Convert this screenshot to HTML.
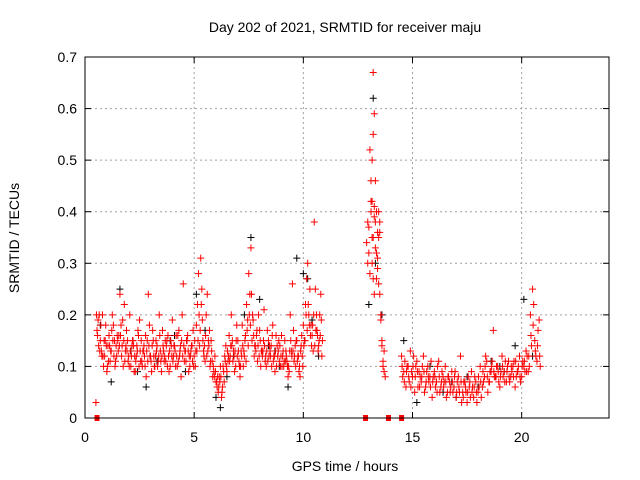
<!DOCTYPE html>
<html><head><meta charset="utf-8"><style>
body{margin:0;background:#fff;}
svg{display:block;font-family:"Liberation Sans",sans-serif;}
</style></head><body>
<svg id="chart" width="640" height="480">
<text x="345" y="32" font-size="14" text-anchor="middle">Day 202 of 2021, SRMTID for receiver maju</text>
<text x="345" y="471" font-size="14" text-anchor="middle">GPS time / hours</text>
<text transform="translate(19,238) rotate(-90)" font-size="14" text-anchor="middle">SRMTID / TECUs</text>
<g id="grid"></g><g id="ticks"></g><g id="blk"></g><g id="red"></g>
<rect x="85" y="57" width="524" height="361" fill="none" stroke="#000"/>
</svg>
<script>
const xTicks=[0,5,10,15,20];
const yTicks=[0,0.1,0.2,0.3,0.4,0.5,0.6,0.7];
const yTickLabels=["0","0.1","0.2","0.3","0.4","0.5","0.6","0.7"];
const seg1Start=0.5, seg1Step=0.1;
const seg1A=[0.03,0.19,0.15,0.2,0.12,0.09,0.16,0.13,0.18,0.11,0.15,0.24,0.14,0.22,0.17,0.12,0.1,0.15,0.09,0.13,0.19,0.11,0.14,0.08,0.24,0.12,0.17,0.1,0.14,0.2,0.09,0.13,0.11,0.16,0.1,0.19,0.14,0.12,0.17,0.08,0.26,0.13,0.16,0.1,0.14,0.12,0.18,0.28,0.31,0.15,0.11,0.24,0.17,0.13,0.09,0.07,0.05,0.1,0.06,0.12,0.09,0.16,0.2,0.13,0.1,0.15,0.08,0.18,0.12,0.22,0.28,0.33,0.19,0.14,0.11,0.17,0.13,0.21,0.1,0.15,0.12,0.18,0.09,0.14,0.11,0.16,0.1,0.13,0.08,0.2,0.26,0.12,0.15,0.09,0.14,0.18,0.22,0.3,0.25,0.16,0.38,0.2,0.14,0.24];
const seg1B=[0.17,0.2,0.13,0.1,0.18,0.14,0.11,0.2,0.15,0.12,0.16,0.18,0.1,0.13,0.15,0.2,0.14,0.09,0.12,0.16,0.11,0.13,0.1,0.15,0.18,0.09,0.12,0.15,0.11,0.13,0.17,0.12,0.15,0.09,0.14,0.12,0.1,0.16,0.13,0.2,0.11,0.15,0.09,0.13,0.17,0.1,0.22,0.14,0.25,0.12,0.2,0.15,0.11,0.08,0.12,0.06,0.08,0.04,0.09,0.14,0.11,0.12,0.15,0.09,0.18,0.11,0.13,0.1,0.16,0.19,0.24,0.15,0.12,0.16,0.2,0.1,0.13,0.11,0.17,0.14,0.1,0.12,0.16,0.13,0.1,0.12,0.15,0.11,0.09,0.13,0.17,0.1,0.12,0.08,0.12,0.15,0.27,0.2,0.18,0.13,0.25,0.16,0.2,0.12];
const seg1C=[0.2,0.14,0.18,0.12,0.15,0.1,0.14,0.17,0.12,0.14,0.13,0.16,0.19,0.11,0.13,0.1,0.12,0.14,0.11,0.17,0.13,0.1,0.12,0.13,0.14,0.11,0.15,0.12,0.1,0.16,0.12,0.11,0.14,0.12,0.15,0.11,0.13,0.1,0.12,0.15,0.14,0.11,0.13,0.12,0.11,0.15,0.13,0.2,0.22,0.13,0.16,0.13,0.1,0.11,0.08,0.07,0.06,0.08,0.1,0.11,0.13,0.11,0.14,0.12,0.15,0.13,0.1,0.14,0.15,0.17,0.2,0.24,0.16,0.13,0.14,0.15,0.12,0.14,0.13,0.12,0.14,0.11,0.13,0.12,0.14,0.1,0.11,0.12,0.1,0.15,0.13,0.14,0.11,0.1,0.16,0.14,0.2,0.22,0.16,0.18,0.14,0.17,0.15,0.19];
const seg1D=[0.16,0.13,0.12,0.15,0.14,0.11,0.13,0.15,0.1,0.16,0.14,0.12,0.15,0.14,0.11,0.13,0.15,0.12,0.14,0.1,0.15,0.13,0.16,0.11,0.12,0.14,0.1,0.13,0.12,0.11,0.14,0.15,0.1,0.13,0.12,0.14,0.16,0.11,0.14,0.12,0.13,0.15,0.12,0.14,0.1,0.13,0.15,0.17,0.19,0.14,0.12,0.14,0.15,0.1,0.09,0.08,0.07,0.05,0.07,0.1,0.12,0.14,0.11,0.13,0.12,0.1,0.12,0.13,0.11,0.14,0.18,0.2,0.14,0.17,0.12,0.13,0.15,0.12,0.11,0.13,0.16,0.12,0.1,0.15,0.12,0.13,0.11,0.1,0.13,0.12,0.11,0.15,0.12,0.13,0.1,0.15,0.17,0.18,0.14,0.2,0.17,0.13,0.16,0.15];
const seg2T=[12.9,12.95,13.0,13.05,13.1,13.15,13.2,13.25,13.3,13.35,13.4,13.45,13.5,13.55,13.6,13.65,13.7,13.75,13.05,13.1,13.15,13.2,13.25,13.3,13.35,13.4,13.45,13.5,13.15,13.2,13.25,13.55,13.6,13.65,13.7,12.95,13.0,13.1,13.2,13.3,13.4,13.45,13.5,13.35,13.25,13.15];
const seg2V=[0.34,0.3,0.37,0.52,0.46,0.42,0.67,0.41,0.38,0.4,0.36,0.35,0.24,0.2,0.14,0.1,0.09,0.08,0.28,0.42,0.5,0.55,0.59,0.46,0.32,0.29,0.26,0.36,0.3,0.27,0.39,0.19,0.15,0.11,0.13,0.38,0.32,0.4,0.35,0.33,0.31,0.4,0.38,0.27,0.24,0.35];
const seg3Start=14.5, seg3Step=0.1;
const seg3A=[0.12,0.09,0.06,0.1,0.13,0.08,0.05,0.11,0.09,0.07,0.12,0.06,0.1,0.08,0.04,0.09,0.07,0.11,0.06,0.08,0.1,0.05,0.07,0.09,0.06,0.04,0.08,0.12,0.05,0.07,0.03,0.06,0.09,0.04,0.07,0.05,0.1,0.06,0.08,0.11,0.07,0.09,0.17,0.08,0.1,0.06,0.12,0.09,0.07,0.11,0.08,0.1,0.06,0.09,0.12,0.08,0.1,0.13,0.09,0.2,0.25,0.15,0.11,0.19];
const seg3B=[0.08,0.11,0.1,0.07,0.09,0.12,0.1,0.06,0.08,0.1,0.05,0.09,0.07,0.11,0.08,0.06,0.1,0.05,0.09,0.07,0.04,0.08,0.06,0.05,0.09,0.07,0.05,0.03,0.07,0.05,0.08,0.04,0.06,0.08,0.03,0.06,0.04,0.07,0.12,0.05,0.09,0.11,0.08,0.1,0.07,0.09,0.08,0.11,0.1,0.07,0.09,0.11,0.08,0.1,0.07,0.11,0.09,0.12,0.1,0.14,0.22,0.12,0.17,0.1];
const seg3C=[0.1,0.07,0.09,0.08,0.06,0.1,0.08,0.09,0.06,0.08,0.09,0.07,0.08,0.06,0.07,0.08,0.05,0.08,0.07,0.06,0.07,0.08,0.05,0.07,0.08,0.05,0.06,0.07,0.04,0.06,0.05,0.07,0.05,0.06,0.05,0.08,0.07,0.09,0.1,0.08,0.07,0.1,0.09,0.08,0.09,0.08,0.1,0.07,0.09,0.08,0.1,0.08,0.11,0.09,0.08,0.1,0.11,0.09,0.12,0.16,0.18,0.13,0.14,0.12];
const blackT=[0.7,1.2,1.6,2.1,2.8,3.3,3.9,4.6,5.1,5.5,6.0,6.5,6.8,7.3,7.6,8.0,8.4,8.9,9.3,9.7,10.0,10.4,10.7,13.0,13.2,13.3,13.6,14.6,15.2,15.8,16.4,17.0,17.5,18.0,18.6,19.2,19.7,20.1,20.5,2.4,4.1,6.2,8.7,10.2,16.8,19.0];
const blackV=[0.18,0.07,0.25,0.13,0.06,0.11,0.15,0.09,0.24,0.17,0.04,0.08,0.12,0.2,0.35,0.23,0.14,0.1,0.06,0.31,0.28,0.19,0.12,0.22,0.62,0.3,0.2,0.15,0.03,0.1,0.05,0.04,0.08,0.06,0.11,0.09,0.14,0.23,0.12,0.09,0.16,0.02,0.13,0.27,0.07,0.1];
const flagT=[0.55,12.85,13.9,14.5];

const X=t=>85+t*(524/24), Y=v=>418-v*(361/0.7);
const NS="http://www.w3.org/2000/svg";
function mk(tag,attrs,parent){const e=document.createElementNS(NS,tag);for(const k in attrs)e.setAttribute(k,attrs[k]);parent.appendChild(e);return e;}
const grid=document.getElementById('grid'),ticks=document.getElementById('ticks');
xTicks.forEach(t=>{
 if(t>0){const l=mk('line',{x1:X(t),x2:X(t),y1:57,y2:418,stroke:'#a0a0a0','stroke-dasharray':'2,3'},grid);
 
 }
 mk('line',{x1:X(t),x2:X(t),y1:418,y2:412,stroke:'#000'},ticks);
 mk('line',{x1:X(t),x2:X(t),y1:57,y2:63,stroke:'#000'},ticks);
 const tx=mk('text',{x:X(t),y:442,'font-size':14,'text-anchor':'middle'},ticks);tx.textContent=t;
 
 
});
yTicks.forEach((v,i)=>{
 if(v>0&&v<0.7){const l=mk('line',{x1:85,x2:609,y1:Y(v),y2:Y(v),stroke:'#a0a0a0','stroke-dasharray':'2,3'},grid);
 
 }
 mk('line',{x1:85,x2:91,y1:Y(v),y2:Y(v),stroke:'#000'},ticks);
 mk('line',{x1:603,x2:609,y1:Y(v),y2:Y(v),stroke:'#000'},ticks);
 const tx=mk('text',{x:77,y:Y(v)+5,'font-size':14,'text-anchor':'end'},ticks);tx.textContent=yTickLabels[i];
 
 
});
function cross(g,t,v,c){
 const x=X(t),y=Y(v);
 const p=mk('path',{d:`M${x-3.5},${y}h7M${x},${y-3.5}v7`,stroke:c,'stroke-width':1,fill:'none'},g);
 
 
}
const blk=document.getElementById('blk'),red=document.getElementById('red');
blackT.forEach((t,i)=>cross(blk,t,blackV[i],'#000'));
seg1A.forEach((v,i)=>cross(red,seg1Start+i*seg1Step,v,'#f00'));
seg1B.forEach((v,i)=>cross(red,seg1Start+0.05+i*seg1Step,v,'#f00'));
seg1C.forEach((v,i)=>cross(red,seg1Start+0.025+i*seg1Step,v,'#f00'));
seg1D.forEach((v,i)=>cross(red,seg1Start+0.075+i*seg1Step,v,'#f00'));
seg2T.forEach((t,i)=>cross(red,t,seg2V[i],'#f00'));
seg3A.forEach((v,i)=>cross(red,seg3Start+i*seg3Step,v,'#f00'));
seg3B.forEach((v,i)=>cross(red,seg3Start+0.05+i*seg3Step,v,'#f00'));
seg3C.forEach((v,i)=>cross(red,seg3Start+0.025+i*seg3Step,v,'#f00'));
flagT.forEach(t=>{const r=mk('rect',{x:X(t)-2.5,y:415,width:5,height:6,fill:'#f00'},red);
 
 });
</script>
</body></html>
